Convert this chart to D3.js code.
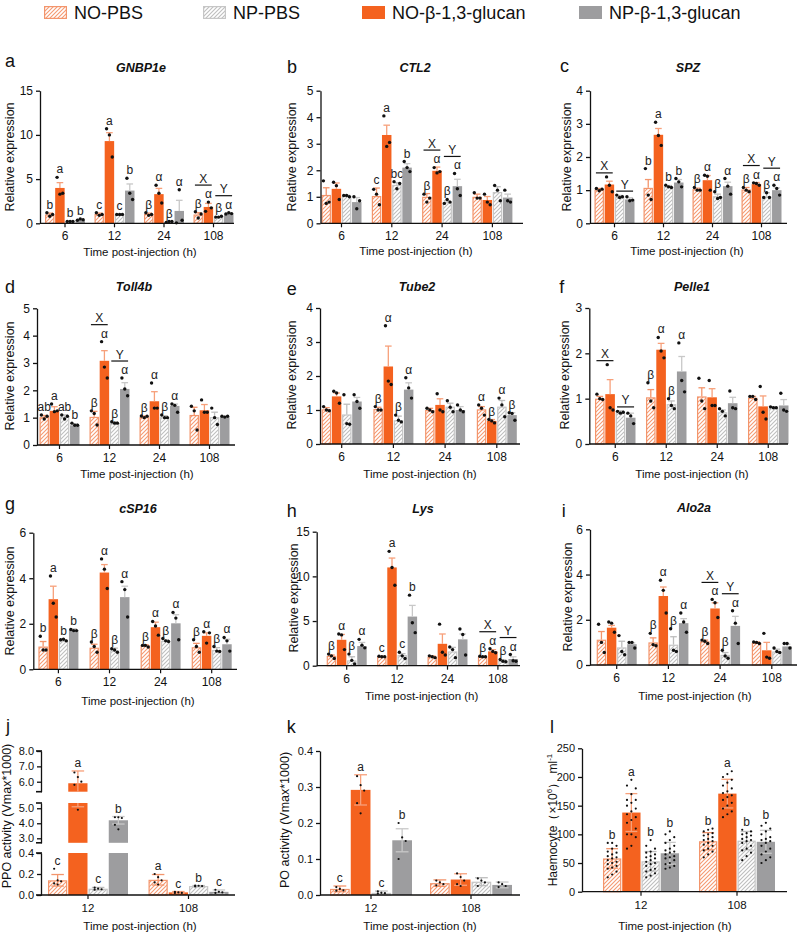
<!DOCTYPE html>
<html><head><meta charset="utf-8">
<script src="https://cdn.jsdelivr.net/npm/d3@7"></script>
<style>
body{margin:0;background:#fff;}
svg{display:block;font-family:"Liberation Sans",Arial,sans-serif;}
</style></head><body>
<svg id="chart" width="799" height="935"></svg>
<script>
// ---------------- DATA ----------------
const barOrder = ["NO-PBS","NO-β-1,3-glucan","NP-PBS","NP-β-1,3-glucan"];
const legendOrder = ["NO-PBS","NP-PBS","NO-β-1,3-glucan","NP-β-1,3-glucan"];
const qTimes = ["6","12","24","108"];
const eTimes = ["12","108"];
const ticks15 = [0,5,10,15], ticks5 = [0,1,2,3,4,5], ticks4 = [0,1,2,3,4], ticks3 = [0,1,2,3], ticks6 = [0,2,4,6];

// GNBP1e
const gnbpMean = [[1.0,4.0,0.2,0.4],[1.05,9.3,1.0,3.7],[1.05,3.3,0.15,1.4],[1.0,1.85,0.7,1.1]];
const gnbpErr  = [[0.15,0.6,0.02,0.05],[0.1,0.95,0.02,0.75],[0.1,0.65,0.03,1.2],[0.2,0.4,0.05,0.05]];
const gnbpPts  = [[[1.2,0.8,1.0],[5.2,3.3,3.4],[0.2,0.2,0.2],[0.35,0.5,0.4]],
                  [[1.2,0.9,1.0],[10.7,10.0,7.5],[1.0,1.0,1.0],[5.1,3.4,2.7]],
                  [[1.2,0.9,1.0],[4.3,3.4,2.3],[0.1,0.2,0.2],[0.05,3.8,0.35]],
                  [[1.3,0.6,1.05],[1.35,2.4,1.75],[0.7,0.7,0.8],[1.05,1.2,1.1]]];
const gnbpSig  = [["b","a","b","b"],["c","a","c","b"],["β","α","β","α"],["β","α","β","α"]];
const gnbpPair = [null,null,null,["X","Y"]];
// CTL2
const ctlMean = [[1.07,1.3,1.03,0.8],[1.03,3.33,1.45,2.1],[1.0,1.98,0.8,1.4],[1.0,0.88,1.18,0.97]];
const ctlErr  = [[0.27,0.22,0.03,0.17],[0.3,0.37,0.08,0.15],[0.12,0.14,0.05,0.26],[0.1,0.13,0.2,0.13]];
const ctlPts  = [[[1.6,0.75,0.8],[1.55,1.42,0.9],[1.05,1.05,1.0],[1.0,0.55,0.85]],
                 [[1.28,1.1,0.7],[4.05,2.9,3.05],[1.57,1.3,1.5],[2.33,2.1,1.95]],
                 [[1.1,0.8,0.95],[2.1,1.9,1.95],[0.75,0.9,0.8],[1.88,1.3,1.05]],
                 [[1.15,0.95,0.95],[1.1,0.8,0.7],[1.43,1.25,0.85],[1.25,0.85,0.8]]];
const ctlSig  = [null,["c","a","bc","b"],["β","α","β","α"],null];
const ctlPair = [null,null,["X","Y"],null];
// SPZ
const spzMean = [[1.02,1.17,0.8,0.72],[1.07,2.67,1.1,1.23],[1.03,1.3,0.82,1.12],[1.02,1.18,0.82,1.0]];
const spzErr  = [[0.03,0.1,0.04,0.05],[0.25,0.19,0.04,0.09],[0.03,0.14,0.06,0.12],[0.06,0.05,0.1,0.07]];
const spzPts  = [[[1.05,0.98,1.03],[1.4,1.15,0.95],[0.85,0.78,0.8],[0.8,0.68,0.7]],
                 [[1.65,0.85,0.72],[3.05,2.65,2.35],[1.15,1.1,1.08],[1.35,1.25,1.1]],
                 [[1.08,1.0,1.0],[1.45,1.42,1.0],[0.95,0.75,0.78],[1.35,1.12,0.88]],
                 [[1.08,1.0,0.95],[1.22,1.2,1.15],[0.78,0.92,0.78],[1.15,1.05,0.85]]];
const spzSig  = [null,["b","a","b","b"],["β","α","β","α"],["β","α","β","α"]];
const spzPair = [["X","Y"],null,null,["X","Y"]];
// Toll4b
const tollMean = [[1.02,1.25,1.03,0.72],[1.03,3.08,0.8,2.05],[1.02,1.6,1.02,1.43],[1.1,1.27,1.02,1.02]];
const tollErr  = [[0.06,0.15,0.07,0.06],[0.2,0.37,0.05,0.23],[0.04,0.35,0.05,0.07],[0.28,0.21,0.18,0.04]];
const tollPts  = [[[1.1,0.95,1.05],[1.5,1.22,1.25],[1.1,0.95,1.05],[0.8,0.72,0.72]],
                  [[1.25,1.15,0.73],[3.78,2.85,2.45],[0.85,0.8,0.8],[2.45,2.05,1.8]],
                  [[1.06,1.0,1.05],[2.27,1.35,1.35],[1.1,1.0,1.0],[1.5,1.45,1.2]],
                  [[1.42,1.25,0.55],[1.65,1.2,1.2],[1.35,1.0,0.75],[1.05,1.02,1.05]]];
const tollSig  = [["ab","a","ab","b"],["β","α","β","α"],["β","α","β","α"],null];
const tollPair = [null,["X","Y"],null,null];
// Tube2
const tubeMean = [[1.02,1.4,0.87,1.25],[1.03,2.28,0.7,1.6],[1.0,1.15,1.1,1.0],[1.02,0.68,1.1,0.85]];
const tubeErr  = [[0.05,0.1,0.3,0.12],[0.05,0.6,0.12,0.2],[0.05,0.18,0.1,0.1],[0.08,0.04,0.18,0.07]];
const tubePts  = [[[1.1,1.0,0.98],[1.55,1.5,1.2],[1.45,0.6,0.58],[1.45,1.25,1.05]],
                  [[1.1,1.0,1.0],[3.48,1.85,1.75],[0.85,0.7,0.65],[1.95,1.65,1.35]],
                  [[1.05,1.0,0.95],[1.48,1.0,0.95],[1.27,1.08,0.95],[1.15,1.0,0.95]],
                  [[1.15,1.05,0.85],[0.72,0.68,0.62],[1.35,1.15,0.8],[0.92,0.9,0.7]]];
const tubeSig  = [null,["β","α","β","α"],null,["α","β","α","β"]];
const tubePair = [null,null,null,null];
// Pelle1
const pelleMean = [[1.0,1.1,0.7,0.58],[1.03,2.08,0.88,1.6],[1.05,1.03,0.7,0.9],[1.02,0.83,0.8,0.85]];
const pelleErr  = [[0.05,0.32,0.03,0.1],[0.17,0.14,0.07,0.33],[0.19,0.19,0.05,0.13],[0.03,0.23,0.02,0.13]];
const pellePts  = [[[1.1,1.0,0.98],[1.75,0.8,0.75],[0.72,0.68,0.7],[0.68,0.62,0.45]],
                   [[1.35,0.95,0.8],[2.35,2.05,1.9],[1.0,0.85,0.78],[2.23,1.4,1.15]],
                   [[1.45,0.95,0.78],[1.4,0.85,0.85],[0.78,0.72,0.62],[1.17,0.8,0.78]],
                   [[1.05,1.05,0.98],[1.27,0.7,0.55],[0.82,0.8,0.8],[1.12,0.75,0.72]]];
const pelleSig  = [null,["β","α","β","α"],null,null];
const pellePair = [["X","Y"],null,null,null];
// cSP16
const cspMean = [[1.0,3.08,1.25,1.72],[0.95,4.25,0.83,3.17],[1.05,1.85,1.25,2.02],[0.97,1.47,0.85,1.1]];
const cspErr  = [[0.22,0.57,0.05,0.06],[0.15,0.35,0.1,0.48],[0.03,0.22,0.05,0.38],[0.17,0.13,0.1,0.22]];
const cspPts  = [[[1.45,0.85,0.85],[4.1,2.9,2.3],[1.3,1.32,1.25],[1.75,1.7,1.7]],
                 [[1.2,1.0,0.75],[4.85,4.4,3.55],[0.9,0.85,0.75],[3.85,3.5,2.3]],
                 [[1.05,1.05,0.98],[2.1,1.9,1.5],[1.35,1.25,1.22],[2.5,2.25,1.3]],
                 [[1.3,1.0,0.75],[1.65,1.15,1.6],[1.0,0.8,0.78],[1.4,1.25,0.8]]];
const cspSig  = [["b","a","b","b"],["β","α","β","α"],["β","α","β","α"],["β","α","β","α"]];
const cspPair = [null,null,null,null];
// Lys
const lysMean = [[1.1,2.9,0.6,2.2],[1.0,11.0,1.2,5.5],[1.0,2.45,1.6,2.95],[1.0,1.6,0.55,0.75]];
const lysErr  = [[0.1,0.6,0.4,0.4],[0.05,1.05,0.15,1.25],[0.08,1.1,0.45,0.6],[0.05,0.2,0.1,0.25]];
const lysPts  = [[[1.3,1.1,0.8],[3.55,3.45,1.8],[1.3,0.6,0.2],[2.95,2.3,2.0]],
                 [[1.05,1.0,1.0],[12.8,11.0,9.0],[1.5,1.1,0.8],[7.9,4.8,3.7]],
                 [[1.1,1.0,0.9],[4.65,1.5,1.2],[2.1,1.8,0.9],[4.1,3.5,1.2]],
                 [[1.05,1.0,1.0],[1.9,1.6,1.45],[0.7,0.5,0.45],[1.25,0.55,0.5]]];
const lysSig  = [["β","α","β","α"],["c","a","c","b"],null,["β","α","β","α"]];
const lysPair = [null,null,null,["X","Y"]];
// Alo2a
const aloMean = [[1.12,1.65,0.78,0.92],[1.0,3.05,0.9,1.85],[1.05,2.5,0.45,1.73],[0.98,0.65,0.6,0.82]];
const aloErr  = [[0.36,0.1,0.27,0.06],[0.2,0.4,0.35,0.2],[0.05,0.25,0.1,0.42],[0.04,0.35,0.1,0.1]];
const aloPts  = [[[1.8,1.0,0.55],[1.9,1.85,1.45],[1.3,0.6,0.45],[1.0,1.0,0.75]],
                 [[1.4,0.9,0.85],[3.75,3.3,2.3],[1.6,0.65,0.6],[2.3,1.9,1.45]],
                 [[1.1,1.05,0.95],[2.9,2.75,2.1],[0.65,0.4,0.3],[2.4,1.85,0.95]],
                 [[1.02,1.0,0.95],[1.4,0.35,0.3],[0.75,0.6,0.55],[0.95,0.95,0.75]]];
const aloSig  = [null,["β","α","β","α"],["β","α","β","α"],null];
const aloPair = [null,null,["X","Y"],null];
// PPO activity (j)
const ppoMean = [[0.14,5.9,0.06,4.2],[0.145,0.025,0.085,0.03]];
const ppoErr  = [[0.055,0.8,0.012,0.25],[0.05,0.008,0.005,0.018]];
const ppoPts  = [[[0.25,0.14,0.13,0.11,0.1],[6.6,6.3,6.0,5.8,4.9],[0.07,0.06,0.055,0.05],[4.4,4.4,4.35,3.9,3.6]],
                 [[0.2,0.17,0.14,0.12,0.1],[0.03,0.025,0.02,0.02],[0.09,0.088,0.085,0.082],[0.05,0.03,0.025,0.02]]];
const ppoSig  = [["c","a","c","b"],["a","c","b","c"]];
const ppoSegDomains = [[0,0.4],[2.7,5.35],[5.35,8.0]];
const ppoSegTicks = [[0,0.2,0.4],[3,4,5],[6,7,8]];
// PO activity (k)
const poMean = [[0.017,0.292,0.006,0.152],[0.033,0.043,0.037,0.028]];
const poErr  = [[0.008,0.042,0.005,0.032],[0.009,0.016,0.011,0.008]];
const poPts  = [[[0.022,0.017,0.013,0.012],[0.33,0.305,0.29,0.255,0.227],[0.01,0.006,0.005,0.004],[0.2,0.16,0.15,0.1]],
                [[0.04,0.035,0.03,0.027],[0.06,0.05,0.04,0.03,0.025],[0.046,0.04,0.035,0.025],[0.035,0.03,0.025,0.022]]];
const poSig  = [["c","a","c","b"],null];
const poTicks = [0,0.1,0.2,0.3,0.4];
// Haemocyte (l)
const haeMean = [[58,138,53,67],[88,171,89,87]];
const haeErr  = [[17,33,17,19],[15,25,16,20]];
const haePts  = [[[25,30,35,40,42,45,48,50,52,55,58,60,62,65,68,70,75,80,85,85],
                  [75,80,95,100,100,110,120,125,130,135,140,145,150,155,160,160,170,180,185,195],
                  [25,28,32,35,38,40,45,48,50,52,55,58,60,62,65,68,70,75,80,90],
                  [40,42,45,48,50,55,58,60,62,65,68,70,72,75,80,85,90,95,100,105]],
                 [[60,65,70,72,75,80,82,85,88,90,92,95,98,100,102,105,108,110],
                  [130,135,140,145,150,155,160,165,168,172,175,180,185,190,195,200,205,210],
                  [55,62,68,72,75,80,85,88,90,92,95,98,100,102,105,108],
                  [50,55,60,65,70,75,80,85,88,90,92,95,100,105,110,115,120]]];
const haeSig  = [["b","a","b","b"],["b","a","b","b"]];
const haeTicks = [0,50,100,150,200,250];

// ---------------- STYLE / LAYOUT ----------------
const ORANGE = "#F4621F", GRAY = "#9D9D9F";
const style = {
  "NO-PBS":          {fill:"url(#hO)", stroke:"#F3956C", err:"#F3956C"},
  "NO-β-1,3-glucan": {fill:ORANGE,     stroke:"none",    err:"#F7A07A"},
  "NP-PBS":          {fill:"url(#hG)", stroke:"#C6C6C6", err:"#BDBDBD"},
  "NP-β-1,3-glucan": {fill:GRAY,       stroke:"none",    err:"#C8C8C8"}
};
const svg = d3.select("#chart");
const defs = svg.append("defs");
function hatch(id, color){
  const p = defs.append("pattern").attr("id",id).attr("patternUnits","userSpaceOnUse")
    .attr("width",4).attr("height",4);
  p.append("rect").attr("width",4).attr("height",4).attr("fill","#fff");
  p.append("path").attr("d","M-1,1 L1,-1 M0,4 L4,0 M3,5 L5,3")
    .attr("stroke",color).attr("stroke-width",1.1);
}
hatch("hO","#F59A72");
hatch("hG","#BEBEBE");

const qPanels = [
  {k:"a", gene:"GNBP1e", m:gnbpMean, e:gnbpErr, p:gnbpPts, s:gnbpSig, pr:gnbpPair, yMax:15, ticks:ticks15,
   L:{x0:40,yTop:90.7,y0:223.3,gStart:45,gStep:49.5,gW:40,xEnd:234,lx:5,ly:67,tx:141,ty:71.5,ylx:9.5,yly:157,xtx:140,xty:256}},
  {k:"b", gene:"CTL2", m:ctlMean, e:ctlErr, p:ctlPts, s:ctlSig, pr:ctlPair, yMax:5, ticks:ticks5,
   L:{x0:320.5,yTop:90.7,y0:223.3,gStart:321.5,gStep:50.3,gW:40,xEnd:523,lx:287,ly:72.5,tx:415,ty:72,ylx:291.7,yly:157,xtx:416,xty:255}},
  {k:"c", gene:"SPZ", m:spzMean, e:spzErr, p:spzPts, s:spzSig, pr:spzPair, yMax:4, ticks:ticks4,
   L:{x0:590,yTop:90.7,y0:223.3,gStart:594.5,gStep:49,gW:40,xEnd:787,lx:560,ly:72,tx:688,ty:72,ylx:566.7,yly:157,xtx:687,xty:255}},
  {k:"d", gene:"Toll4b", m:tollMean, e:tollErr, p:tollPts, s:tollSig, pr:tollPair, yMax:5, ticks:ticks5,
   L:{x0:37,yTop:308.3,y0:445,gStart:39.5,gStep:50,gW:40,xEnd:235,lx:5,ly:292.5,tx:134,ty:290.7,ylx:9.5,yly:376,xtx:137,xty:478}},
  {k:"e", gene:"Tube2", m:tubeMean, e:tubeErr, p:tubePts, s:tubeSig, pr:tubePair, yMax:4, ticks:ticks4,
   L:{x0:320,yTop:308,y0:444,gStart:321.7,gStep:51.7,gW:40,xEnd:520,lx:286.7,ly:295,tx:417,ty:290.7,ylx:291.7,yly:375,xtx:420,xty:478}},
  {k:"f", gene:"Pelle1", m:pelleMean, e:pelleErr, p:pellePts, s:pelleSig, pr:pellePair, yMax:3, ticks:ticks3,
   L:{x0:589.3,yTop:308,y0:444,gStart:595,gStep:51,gW:40.5,xEnd:788,lx:559.3,ly:293,tx:692,ty:291,ylx:565,yly:375,xtx:692,xty:478}},
  {k:"g", gene:"cSP16", m:cspMean, e:cspErr, p:cspPts, s:cspSig, pr:cspPair, yMax:6, ticks:ticks6,
   L:{x0:33.3,yTop:532.7,y0:669.3,gStart:38.4,gStep:51.1,gW:40,xEnd:237,lx:5,ly:510,tx:138,ty:512.7,ylx:9.5,yly:601,xtx:138,xty:705}},
  {k:"h", gene:"Lys", m:lysMean, e:lysErr, p:lysPts, s:lysSig, pr:lysPair, yMax:15, ticks:ticks15,
   L:{x0:316.7,yTop:531.7,y0:665.7,gStart:326.7,gStep:50.4,gW:40,xEnd:520,lx:286.7,ly:516.7,tx:423,ty:513,ylx:293.3,yly:598,xtx:421.7,xty:700}},
  {k:"i", gene:"Alo2a", m:aloMean, e:aloErr, p:aloPts, s:aloSig, pr:aloPair, yMax:6, ticks:ticks6,
   L:{x0:590,yTop:529.3,y0:665,gStart:596.7,gStep:51.7,gW:40,xEnd:797,lx:561.7,ly:516.7,tx:694,ty:511.7,ylx:568,yly:597,xtx:695,xty:700}}
];

const FONT_TICK = 12, FONT_SIG = 12, FONT_TICK4 = 11;

function addText(g, x, y, txt, size, opts={}){
  const t = g.append("text").attr("x",x).attr("y",y).attr("font-size",size).attr("fill",opts.fill||"#111").text(txt);
  if (opts.anchor) t.attr("text-anchor",opts.anchor);
  if (opts.weight) t.attr("font-weight",opts.weight);
  if (opts.italic) t.attr("font-style","italic");
  return t;
}
function yLabel(g, cx, cy, txt, size){
  return g.append("text").attr("transform",`translate(${cx},${cy}) rotate(-90)`)
    .attr("text-anchor","middle").attr("dy","0.35em").attr("font-size",size).attr("fill","#111").text(txt);
}
function xAxisLine(g, L, centers, labels, fs){
  g.append("line").attr("x1",L.x0).attr("x2",L.xEnd).attr("y1",L.y0).attr("y2",L.y0)
    .attr("stroke","#111").attr("stroke-width",1.3);
  centers.forEach((c,i)=>{
    g.append("line").attr("x1",c).attr("x2",c).attr("y1",L.y0).attr("y2",L.y0+4).attr("stroke","#111").attr("stroke-width",1.2);
    addText(g, c, L.y0+17, labels[i], fs, {anchor:"middle"});
  });
}
function styleAxis(ax, fs){
  ax.selectAll("path,line").attr("stroke","#111").attr("stroke-width",1.3);
  ax.selectAll("text").attr("font-size",fs).attr("fill","#111").attr("font-family",'"Liberation Sans",Arial,sans-serif');
}
function drawBar(g, x, yTopPx, yBotPx, w, sname){
  const st = style[sname];
  if (st.stroke === "none"){
    g.append("rect").attr("x",x).attr("y",yTopPx).attr("width",w).attr("height",Math.max(0,yBotPx-yTopPx)).attr("fill",st.fill);
  } else {
    g.append("rect").attr("x",x+0.6).attr("y",yTopPx+0.6).attr("width",w-1.2).attr("height",Math.max(0,yBotPx-yTopPx-0.6))
      .attr("fill",st.fill).attr("stroke",st.stroke).attr("stroke-width",1.2);
  }
}
function errSeg(g, cx, ya, yb, color){
  g.append("line").attr("x1",cx).attr("x2",cx).attr("y1",ya).attr("y2",yb).attr("stroke",color).attr("stroke-width",1.3);
}
function errCap(g, cx, y, w, color){
  g.append("line").attr("x1",cx-w/2).attr("x2",cx+w/2).attr("y1",y).attr("y2",y).attr("stroke",color).attr("stroke-width",1.3);
}

function drawQ(P){
  const L = P.L;
  const g = svg.append("g");
  const y = d3.scaleLinear().domain([0,P.yMax]).range([L.y0,L.yTop]);
  const x = d3.scaleBand().domain(qTimes).range([L.gStart, L.gStart+3*L.gStep+L.gW])
    .paddingInner((L.gStep-L.gW)/L.gStep).paddingOuter(0);
  const xs = d3.scaleBand().domain(barOrder).range([0,x.bandwidth()]).paddingInner(0.07);
  const bw = xs.bandwidth();
  qTimes.forEach((t,ti)=>{
    const tops = [];
    barOrder.forEach((sn,si)=>{
      const m = P.m[ti][si], e = P.e[ti][si], pts = P.p[ti][si];
      const bx = x(t)+xs(sn), cx = bx+bw/2;
      drawBar(g, bx, y(m), L.y0, bw, sn);
      errSeg(g, cx, y(m), y(m+e), style[sn].err);
      errCap(g, cx, y(m+e), bw*0.7, style[sn].err);
      pts.forEach((v,k)=>{
        g.append("circle").attr("cx",cx+(k-1)*bw*0.3).attr("cy",y(v)).attr("r",1.7).attr("fill","#111");
      });
      const topVal = Math.max(m+e, d3.max(pts));
      let topPx = y(topVal);
      if (P.s[ti]){
        addText(g, cx, topPx-4, P.s[ti][si], FONT_SIG, {anchor:"middle", fill:"#222"});
        topPx = topPx-4-9;
      }
      tops.push({cx, topPx});
    });
    if (P.pr[ti]){
      [0,1].forEach(pi=>{
        const a = tops[2*pi], b = tops[2*pi+1];
        const ly = Math.min(a.topPx,b.topPx)-4;
        g.append("line").attr("x1",a.cx-bw*0.35).attr("x2",b.cx+bw*0.35).attr("y1",ly).attr("y2",ly)
          .attr("stroke","#111").attr("stroke-width",1.2);
        addText(g,(a.cx+b.cx)/2, ly-2.5, P.pr[ti][pi], FONT_SIG, {anchor:"middle", fill:"#222"});
      });
    }
  });
  const ax = g.append("g").attr("transform",`translate(${L.x0},0)`)
    .call(d3.axisLeft(y).tickValues(P.ticks).tickSize(4).tickSizeOuter(0).tickPadding(3).tickFormat(d3.format("d")));
  styleAxis(ax, FONT_TICK);
  xAxisLine(g, L, qTimes.map(t=>x(t)+x.bandwidth()/2), qTimes, FONT_TICK);
  addText(g, L.lx, L.ly, P.k, 18);
  addText(g, L.tx, L.ty, P.gene, 12.5, {anchor:"middle", weight:"bold", italic:true});
  yLabel(g, L.ylx, L.yly, "Relative expression", 12.5);
  addText(g, L.xtx, L.xty, "Time post-injection (h)", 11.5, {anchor:"middle"});
}
qPanels.forEach(drawQ);

// ---------- Row 4 panels ----------
function ptOffset(k, n, bw){
  if (n <= 6) return ((k%3)-1)*bw*0.18;
  return ((k%3)-1)*bw*0.24;
}
function drawE(P){
  const L = P.L;
  const g = svg.append("g");
  const x = d3.scaleBand().domain(eTimes).range([L.gStart, L.gStart+L.gStep+L.gW])
    .paddingInner((L.gStep-L.gW)/L.gStep).paddingOuter(0);
  const xs = d3.scaleBand().domain(barOrder).range([0,x.bandwidth()]).paddingInner(0.05);
  const bw = xs.bandwidth();
  const segs = P.segs.map((s,i)=>({d:s, sc:d3.scaleLinear().domain(s).range(L.segR[i]), ticks:P.segTicks[i]}));
  const yv = v => { for (const s of segs) if (v>=s.d[0]-1e-9 && v<=s.d[1]+1e-9) return s.sc(v); return null; };
  eTimes.forEach((t,ti)=>{
    barOrder.forEach((sn,si)=>{
      const m = P.m[ti][si], e = P.e[ti][si], pts = P.p[ti][si];
      const bx = x(t)+xs(sn), cx = bx+bw/2;
      segs.forEach(s=>{
        if (m > s.d[0]) drawBar(g, bx, s.sc(Math.min(m,s.d[1])), s.sc(s.d[0]), bw, sn);
      });
      const col = style[sn].err;
      const lo = Math.max(0, m-e), hi = m+e;
      segs.forEach(s=>{
        const a = Math.max(lo,s.d[0]), b = Math.min(hi,s.d[1]);
        if (b > a) errSeg(g, cx, s.sc(a), s.sc(b), col);
      });
      if (yv(hi)!==null) errCap(g, cx, yv(hi), bw*0.65, col);
      if (m-e > 0 && yv(lo)!==null) errCap(g, cx, yv(lo), bw*0.65, col);
      pts.forEach((v,k)=>{
        const py = yv(v);
        if (py!==null) g.append("circle").attr("cx",cx+ptOffset(k,pts.length,bw)).attr("cy",py).attr("r",1.1).attr("fill","#111");
      });
      if (P.s[ti]){
        const topVal = Math.max(hi, d3.max(pts));
        addText(g, cx, yv(topVal)-4, P.s[ti][si], FONT_SIG, {anchor:"middle", fill:"#222"});
      }
    });
  });
  segs.forEach((s,i)=>{
    const ax = g.append("g").attr("transform",`translate(${L.x0},0)`)
      .call(d3.axisLeft(s.sc).tickValues(s.ticks).tickSize(4).tickSizeOuter(0).tickPadding(3).tickFormat(P.fmt));
    styleAxis(ax, FONT_TICK4);
    if (segs.length>1){
      [s.d[0],s.d[1]].forEach(v=>{
        g.append("line").attr("x1",L.x0-5).attr("x2",L.x0+1).attr("y1",s.sc(v)).attr("y2",s.sc(v))
          .attr("stroke","#111").attr("stroke-width",1.6);
      });
    }
  });
  xAxisLine(g, L, eTimes.map(t=>x(t)+x.bandwidth()/2), eTimes, FONT_TICK4+0.5);
  addText(g, L.lx, L.ly, P.k, 18);
  if (P.ylabParts){
    const t = g.append("text").attr("transform",`translate(${L.ylx},${L.yly}) rotate(-90)`)
      .attr("text-anchor","middle").attr("dy","0.35em").attr("font-size",12).attr("fill","#111");
    P.ylabParts.forEach(pt=>{
      const ts = t.append("tspan").text(pt.t);
      if (pt.sup) ts.attr("font-size",8).attr("dy",-5);
      if (pt.down) ts.attr("dy",5);
    });
  } else {
    yLabel(g, L.ylx, L.yly, P.ylab, 12.5);
  }
  addText(g, L.xtx, L.xty, "Time post-injection (h)", 11.5, {anchor:"middle"});
}

drawE({k:"j", m:ppoMean, e:ppoErr, p:ppoPts, s:ppoSig, segs:ppoSegDomains, segTicks:ppoSegTicks, fmt:d3.format(".1f"),
  ylab:"PPO activity (Vmax*1000)",
  L:{x0:41,y0:895,segR:[[895,853],[842.8,803],[791.7,751]],gStart:48,gStep:100.5,gW:80,xEnd:235,lx:6,ly:731.7,ylx:7,yly:816,xtx:140,xty:930}});
drawE({k:"k", m:poMean, e:poErr, p:poPts, s:poSig, segs:[[0,0.4]], segTicks:[poTicks], fmt:d3.format(".1f"),
  ylab:"PO activity (Vmax*1000)",
  L:{x0:320,y0:895,segR:[[895,751]],gStart:330,gStep:100,gW:82,xEnd:520,lx:286.7,ly:733,ylx:285,yly:820,xtx:420,xty:930}});
drawE({k:"l", m:haeMean, e:haeErr, p:haePts, s:haeSig, segs:[[0,250]], segTicks:[haeTicks], fmt:d3.format("d"),
  ylabParts:[{t:"Haemocyte（×10"},{t:"6",sup:true},{t:"） ml",down:true},{t:"-1",sup:true}],
  L:{x0:582,y0:891.7,segR:[[891.7,748.3]],gStart:603,gStep:96,gW:76,xEnd:787,lx:550,ly:733,ylx:553,yly:820,xtx:675,xty:930}});

// ---------- Legend ----------
const legX = [44, 203, 362, 579];
const lg = svg.append("g");
legendOrder.forEach((sn,i)=>{
  const st = style[sn];
  if (st.stroke==="none") lg.append("rect").attr("x",legX[i]).attr("y",6).attr("width",23).attr("height",13).attr("fill",st.fill);
  else lg.append("rect").attr("x",legX[i]+0.6).attr("y",6.6).attr("width",21.8).attr("height",11.8).attr("fill",st.fill).attr("stroke",st.stroke).attr("stroke-width",1.2);
  addText(lg, legX[i]+30, 19, sn, 18);
});
</script></body></html>
